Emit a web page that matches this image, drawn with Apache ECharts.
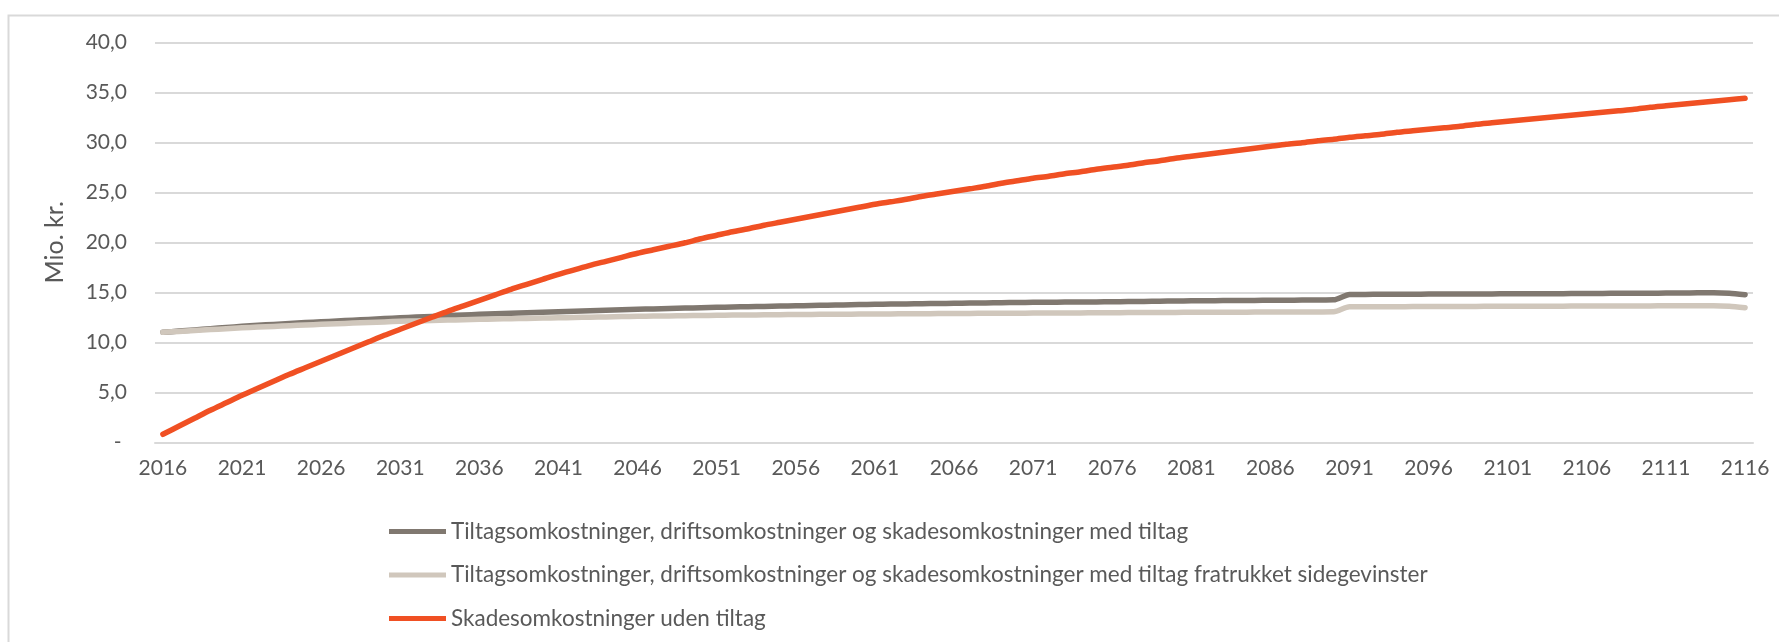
<!DOCTYPE html>
<html>
<head>
<meta charset="utf-8">
<script src="https://cdn.jsdelivr.net/npm/echarts@6/dist/echarts.min.js"></script>
<style>
html,body{margin:0;padding:0;background:#fff;}
#c{width:1779px;height:642px;}
</style>
</head>
<body>
<div id="c"></div>
<script>
var years = [];
for (var y = 2016; y <= 2116; y++) years.push(String(y));

var seriesNames = [
  'Tiltagsomkostninger, driftsomkostninger og skadesomkostninger med tiltag',
  'Tiltagsomkostninger, driftsomkostninger og skadesomkostninger med tiltag fratrukket sidegevinster',
  'Skadesomkostninger uden tiltag'
];

var medTiltag = [
  11.0, 11.12, 11.24, 11.36, 11.48, 11.6, 11.7, 11.79, 11.88, 11.97,
  12.05, 12.13, 12.21, 12.29, 12.37, 12.45, 12.52, 12.59, 12.66, 12.73,
  12.8, 12.85, 12.9, 12.95, 13.0, 13.05, 13.1, 13.15, 13.2, 13.25,
  13.3, 13.34, 13.38, 13.42, 13.46, 13.5, 13.53, 13.56, 13.59, 13.62,
  13.65, 13.68, 13.71, 13.74, 13.77, 13.8, 13.82, 13.84, 13.86, 13.88,
  13.9, 13.92, 13.94, 13.96, 13.98, 14.0, 14.01, 14.02, 14.03, 14.04,
  14.05, 14.07, 14.09, 14.11, 14.13, 14.15, 14.16, 14.17, 14.18, 14.19,
  14.2, 14.21, 14.22, 14.23, 14.25, 14.78, 14.79, 14.8, 14.8, 14.81,
  14.82, 14.82, 14.83, 14.83, 14.84, 14.85, 14.85, 14.86, 14.86, 14.87,
  14.88, 14.89, 14.9, 14.9, 14.91, 14.92, 14.93, 14.95, 14.95, 14.9,
  14.75
];

var fratrukket = [
  11.0, 11.09, 11.18, 11.27, 11.36, 11.45, 11.52, 11.59, 11.66, 11.73,
  11.8, 11.86, 11.92, 11.98, 12.04, 12.1, 12.14, 12.18, 12.22, 12.26,
  12.3, 12.33, 12.36, 12.39, 12.42, 12.45, 12.48, 12.51, 12.54, 12.57,
  12.6, 12.62, 12.64, 12.66, 12.68, 12.7, 12.72, 12.73, 12.75, 12.76,
  12.78, 12.79, 12.8, 12.81, 12.82, 12.83, 12.84, 12.85, 12.86, 12.87,
  12.88, 12.89, 12.9, 12.9, 12.91, 12.92, 12.93, 12.94, 12.94, 12.95,
  12.96, 12.97, 12.98, 12.98, 12.99, 13.0, 13.0, 13.01, 13.01, 13.02,
  13.02, 13.03, 13.03, 13.04, 13.05, 13.55, 13.55, 13.56, 13.56, 13.57,
  13.58, 13.58, 13.59, 13.59, 13.6, 13.6, 13.6, 13.61, 13.61, 13.62,
  13.62, 13.63, 13.63, 13.64, 13.64, 13.65, 13.65, 13.66, 13.66, 13.6,
  13.45
];

var udenTiltag = [
  0.8, 1.6, 2.4, 3.2, 3.95, 4.7, 5.4, 6.1, 6.8, 7.45,
  8.1, 8.75, 9.4, 10.05, 10.7, 11.3, 11.9, 12.5, 13.1, 13.65,
  14.2, 14.75, 15.3, 15.8, 16.3, 16.8, 17.25, 17.7, 18.1, 18.5,
  18.9, 19.25, 19.6, 19.95, 20.35, 20.7, 21.05, 21.35, 21.7, 22.0,
  22.3, 22.6, 22.9, 23.2, 23.5, 23.8, 24.05, 24.3, 24.6, 24.85,
  25.1, 25.35, 25.6, 25.9, 26.15, 26.4, 26.6, 26.85, 27.05, 27.3,
  27.5, 27.7, 27.95, 28.15, 28.4, 28.6, 28.8, 29.0, 29.2, 29.4,
  29.6, 29.8, 29.95, 30.15, 30.3, 30.5, 30.65, 30.8, 31.0, 31.15,
  31.3, 31.45, 31.6, 31.8, 31.95, 32.1, 32.25, 32.4, 32.55, 32.7,
  32.85, 33.0, 33.15, 33.3, 33.5, 33.65, 33.8, 33.95, 34.1, 34.25,
  34.4
];

var colors = ['#807870', '#d0c7bc', '#f05023'];
var FONT = 'Lato';
var TXT = '#595959';

var chart = echarts.init(document.getElementById('c'), null, {renderer: 'canvas'});

function mkSeries(name, data, color) {
  return {
    name: name, type: 'line', data: data, symbol: 'none', smooth: 0.25,
    lineStyle: {color: color, width: 5.5, cap: 'round', join: 'round'},
    itemStyle: {color: color},
    emphasis: {disabled: true}
  };
}

chart.setOption({
  animation: false,
  backgroundColor: '#ffffff',
  textStyle: {fontFamily: FONT, color: TXT},
  graphic: [{
    type: 'rect', left: 6, top: 13, silent: true,
    shape: {width: 1800, height: 700},
    style: {fill: 'none', stroke: '#d9d9d9', lineWidth: 2}
  }],
  grid: {left: 155, right: 26, top: 42.3, bottom: 199.7, containLabel: false},
  legend: {
    orient: 'vertical', left: 384, top: 515,
    icon: 'rect', itemWidth: 57, itemHeight: 5, itemGap: 20.5,
    textStyle: {fontFamily: FONT, fontSize: 22.5, color: TXT},
    data: seriesNames
  },
  xAxis: {
    type: 'category', data: years, boundaryGap: true,
    axisLine: {show: true, lineStyle: {color: '#d9d9d9', width: 2}},
    axisTick: {show: false},
    axisLabel: {interval: 4, margin: 15, fontFamily: FONT, fontSize: 21, color: TXT}
  },
  yAxis: {
    type: 'value', min: 0, max: 40, interval: 5,
    name: 'Mio. kr.', nameLocation: 'middle', nameGap: 88, nameRotate: 90,
    nameTextStyle: {fontFamily: FONT, fontSize: 25, color: TXT},
    axisLine: {show: false}, axisTick: {show: false},
    splitLine: {lineStyle: {color: '#d9d9d9', width: 2}},
    axisLabel: {
      margin: 28, fontFamily: FONT, fontSize: 21, color: TXT,
      formatter: function (v) { return v === 0 ? '- ' : v.toFixed(1).replace('.', ','); }
    }
  },
  series: [
    mkSeries(seriesNames[0], medTiltag, colors[0]),
    mkSeries(seriesNames[1], fratrukket, colors[1]),
    mkSeries(seriesNames[2], udenTiltag, colors[2])
  ]
});
</script>
</body>
</html>
